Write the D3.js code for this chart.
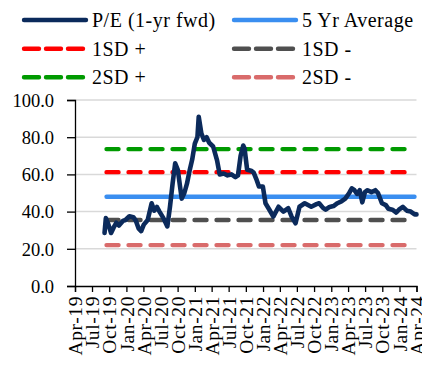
<!DOCTYPE html>
<html>
<head>
<meta charset="utf-8">
<script src="https://cdn.jsdelivr.net/npm/d3@7/dist/d3.min.js"></script>
<style>
  html, body { margin: 0; padding: 0; background: #fff; }
  svg { display: block; }
  text { font-family: "Liberation Serif", "Times New Roman", serif; fill: #000; }
</style>
</head>
<body>
<div id="chart"></div>
<script>
// Forward P/E history (1-year forward), sampled roughly every two weeks
const dates = [
  "2019-09-06","2019-09-13","2019-09-27","2019-10-11","2019-10-25","2019-11-08","2019-11-22",
  "2019-12-13","2019-12-27","2020-01-17","2020-02-07","2020-02-21","2020-03-06","2020-03-20",
  "2020-04-03","2020-04-24","2020-05-15","2020-05-29","2020-06-12","2020-06-26","2020-07-17",
  "2020-08-07","2020-08-21","2020-09-04","2020-09-18","2020-10-02","2020-10-16","2020-10-23",
  "2020-11-06","2020-11-20","2020-12-04","2020-12-18","2021-01-01","2021-01-15","2021-01-22",
  "2021-02-05","2021-02-19","2021-03-05","2021-03-19","2021-04-09","2021-04-30","2021-05-14",
  "2021-06-04","2021-06-25","2021-07-16","2021-08-06","2021-08-20","2021-09-03","2021-09-17",
  "2021-09-24","2021-10-08","2021-10-29","2021-11-12","2021-11-26","2021-12-10","2021-12-31",
  "2022-01-14","2022-02-04","2022-02-25","2022-03-25","2022-04-20","2022-05-16","2022-06-03",
  "2022-06-24","2022-07-15","2022-08-12","2022-09-16","2022-10-14","2022-10-28","2022-11-18",
  "2022-12-02","2022-12-23","2023-01-13","2023-02-03","2023-02-24","2023-03-17","2023-04-07",
  "2023-04-21","2023-05-05","2023-05-19","2023-06-02","2023-06-16","2023-06-30","2023-07-14",
  "2023-08-04","2023-08-25","2023-09-08","2023-09-29","2023-10-20","2023-11-03","2023-11-24",
  "2023-12-15","2023-12-29","2024-01-19","2024-02-09","2024-03-01","2024-03-22","2024-04-01"
];
const peValues = [
  28.5, 36.5, 33.0, 28.5, 31.5, 34.0, 32.5,
  35.0, 35.5, 37.5, 37.0, 35.0, 31.0, 29.5,
  33.0, 35.5, 44.5, 40.5, 42.5, 40.0, 36.5,
  32.0, 42.5, 55.0, 66.0, 62.5, 52.0, 47.0,
  50.0, 55.0, 62.0, 68.0, 76.5, 80.0, 91.0,
  82.0, 78.5, 80.0, 77.0, 75.0, 67.5, 60.0,
  60.5, 59.5, 60.0, 58.5, 59.5, 70.0, 75.5,
  74.0, 62.5, 62.0, 61.0, 57.5, 53.5, 53.5,
  44.5, 41.0, 37.3, 42.6, 40.0, 41.8, 37.3,
  33.7, 42.6, 44.5, 42.6, 44.0, 44.5, 42.0,
  41.0, 42.5, 43.0, 44.5, 45.5, 47.0, 50.0,
  52.5, 51.5, 49.5, 51.5, 45.0, 50.5, 51.5,
  50.5, 51.5, 50.0, 44.5, 43.5, 41.5, 41.0,
  39.5, 41.0, 42.5, 40.5, 40.0, 38.5, 38.5
];

// Reference bands
const avg5yr = 48.0;
const sdPlus1 = 61.2;
const sdPlus2 = 73.6;
const sdMinus1 = 35.5;
const sdMinus2 = 22.0;

// Axis ticks
const yTicks = [0, 20, 40, 60, 80, 100];
const xTickLabels = ["Apr-19","Jul-19","Oct-19","Jan-20","Apr-20","Jul-20","Oct-20","Jan-21",
  "Apr-21","Jul-21","Oct-21","Jan-22","Apr-22","Jul-22","Oct-22","Jan-23","Apr-23","Jul-23",
  "Oct-23","Jan-24","Apr-24"];

// Legend entries
const legendItems = [
  { label: "P/E (1-yr fwd)", color: "#0b2a5b", dash: null },
  { label: "5 Yr Average", color: "#3a8ef0", dash: null },
  { label: "1SD +", color: "#ff0000", dash: "12,10" },
  { label: "1SD -", color: "#4f4f4f", dash: "12,10" },
  { label: "2SD +", color: "#009a00", dash: "12,10" },
  { label: "2SD -", color: "#d96b6b", dash: "12,10" }
];

const W = 422, H = 369;
const parse = d3.timeParse("%Y-%m-%d");
const monthParse = d3.timeParse("%b-%y");
const series = dates.map((d, i) => ({ date: parse(d), value: peValues[i] }));

const svg = d3.select("#chart").append("svg").attr("width", W).attr("height", H);

const x = d3.scaleTime()
  .domain([monthParse(xTickLabels[0]), monthParse(xTickLabels[xTickLabels.length - 1])])
  .range([75, 416.5]);
const y = d3.scaleLinear().domain([0, 100]).range([286, 100]);

// Horizontal gridlines
svg.append("g")
  .selectAll("line")
  .data(yTicks.filter(t => t > 0))
  .join("line")
  .attr("x1", 75).attr("x2", 416.5)
  .attr("y1", d => y(d)).attr("y2", d => y(d))
  .attr("stroke", "#d9d9d9").attr("stroke-width", 1.5);

// Reference band lines
const first = series[0].date, last = series[series.length - 1].date;
const bands = [
  { v: sdMinus2, item: legendItems[5] },
  { v: sdMinus1, item: legendItems[3] },
  { v: sdPlus2, item: legendItems[4] },
  { v: sdPlus1, item: legendItems[2] },
  { v: avg5yr, item: legendItems[1] }
];
svg.append("g")
  .selectAll("line")
  .data(bands)
  .join("line")
  .attr("x1", x(first) + 2).attr("x2", x(last) - 2)
  .attr("y1", d => y(d.v)).attr("y2", d => y(d.v))
  .attr("stroke", d => d.item.color)
  .attr("stroke-width", 4.4)
  .attr("stroke-linecap", "round")
  .attr("stroke-dasharray", d => d.item.dash);

// P/E line
svg.append("path")
  .datum(series)
  .attr("fill", "none")
  .attr("stroke", legendItems[0].color)
  .attr("stroke-width", 4.6)
  .attr("stroke-linejoin", "round")
  .attr("stroke-linecap", "round")
  .attr("d", d3.line().x(d => x(d.date)).y(d => y(d.value)));

// Y axis
const yAxis = svg.append("g")
  .attr("transform", "translate(75,0)")
  .call(d3.axisLeft(y).tickValues(yTicks).tickSize(8).tickPadding(13).tickFormat(d3.format(".1f")));
yAxis.selectAll("text").style("font-size", "18.5px").attr("dy", "0.34em");

// X axis
const xAxis = svg.append("g")
  .attr("transform", "translate(0,286)")
  .call(d3.axisBottom(x).tickValues(xTickLabels.map(monthParse)).tickSize(6).tickFormat(d3.timeFormat("%b-%y")));
xAxis.selectAll("text")
  .style("font-size", "19.5px")
  .style("letter-spacing", "0.6px")
  .attr("text-anchor", "end")
  .attr("transform", "rotate(-90)")
  .attr("x", -10).attr("y", 0).attr("dy", "0.34em");

svg.selectAll(".domain").attr("stroke", "#000").attr("stroke-width", 1.3);
svg.selectAll(".tick line").attr("stroke", "#000").attr("stroke-width", 1.3);

// Legend
const legend = svg.append("g");
const legendRows = [20, 48.7, 77.3];
legendItems.forEach((d, i) => {
  const col = i % 2, row = Math.floor(i / 2);
  const x0 = col === 0 ? 22 : 232;
  const yy = legendRows[row];
  legend.append("line")
    .attr("x1", x0 + 2).attr("x2", x0 + 64)
    .attr("y1", yy).attr("y2", yy)
    .attr("stroke", d.color).attr("stroke-width", 4.4)
    .attr("stroke-linecap", "round")
    .attr("stroke-dasharray", d.dash ? "15,7" : null);
  legend.append("text")
    .attr("x", x0 + 70).attr("y", yy + 6.8)
    .style("font-size", "20px")
    .style("letter-spacing", "0.5px")
    .text(d.label);
});
</script>
</body>
</html>
